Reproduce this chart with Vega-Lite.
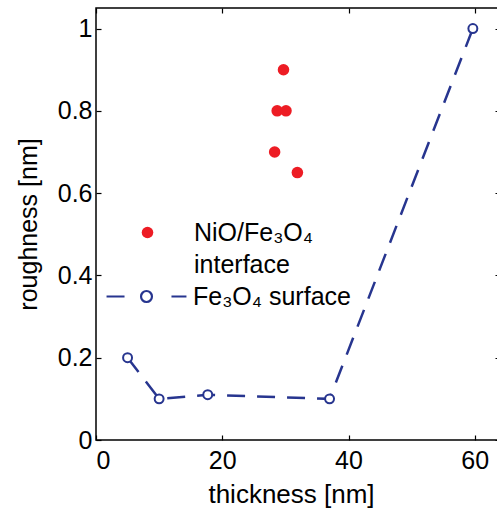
{
  "$schema": "https://vega.github.io/schema/vega-lite/v6.json",
  "width": 404,
  "height": 432,
  "autosize": "none",
  "padding": {"left": 96, "top": 8, "right": 0, "bottom": 75},
  "background": "white",
  "config": {
    "view": {"stroke": "black", "strokeWidth": 1.5},
    "style": {"guide-label": {"lineHeight": 32.5}},
    "axis": {
      "labelFont": "Liberation Sans", "titleFont": "Liberation Sans",
      "labelFontSize": 25, "titleFontSize": 25, "titleFontWeight": "normal",
      "labelColor": "black", "titleColor": "black",
      "domainColor": "black", "tickColor": "black", "domainWidth": 1.5,
      "tickWidth": 1.2, "grid": false, "tickSize": -5
    },
    "legend": {
      "labelFont": "Liberation Sans", "labelFontSize": 25, "labelColor": "black",
      "title": null, "padding": 0, "labelLimit": 400, "symbolSize": 133,
      "labelBaseline": "middle", "labelOffset": 34
    }
  },
  "data": {
    "values": [
      {"series": "NiO/Fe₃O₄ interface", "thickness": 29.7, "roughness": 0.9},
      {"series": "NiO/Fe₃O₄ interface", "thickness": 28.7, "roughness": 0.8},
      {"series": "NiO/Fe₃O₄ interface", "thickness": 30.1, "roughness": 0.8},
      {"series": "NiO/Fe₃O₄ interface", "thickness": 28.3, "roughness": 0.7},
      {"series": "NiO/Fe₃O₄ interface", "thickness": 31.9, "roughness": 0.65},
      {"series": "Fe₃O₄ surface", "thickness": 5, "roughness": 0.2},
      {"series": "Fe₃O₄ surface", "thickness": 10, "roughness": 0.1},
      {"series": "Fe₃O₄ surface", "thickness": 17.7, "roughness": 0.11},
      {"series": "Fe₃O₄ surface", "thickness": 37, "roughness": 0.1},
      {"series": "Fe₃O₄ surface", "thickness": 59.7, "roughness": 1.0}
    ]
  },
  "resolve": {"axis": {"x": "independent", "y": "independent"}},
  "layer": [
    {
      "transform": [{"filter": "datum.series == 'Fe₃O₄ surface'"}],
      "mark": {"type": "line", "color": "#27358f", "strokeWidth": 2.5, "strokeDash": [18, 12]},
      "encoding": {
        "x": {"field": "thickness", "type": "quantitative", "scale": {"domain": [0, 64], "nice": false},
              "axis": {"orient": "top", "values": [0, 20, 40, 60], "labels": false, "title": null, "domain": false}},
        "y": {"field": "roughness", "type": "quantitative", "scale": {"domain": [0, 1.05], "nice": false},
              "axis": {"orient": "right", "values": [0, 0.2, 0.4, 0.6, 0.8, 1], "labels": false, "title": null, "domain": false}}
      }
    },
    {
      "transform": [{"filter": "datum.series == 'NiO/Fe₃O₄ interface'"}],
      "mark": {"type": "circle", "size": 133, "opacity": 1},
      "encoding": {
        "x": {"field": "thickness", "type": "quantitative", "scale": {"domain": [0, 64], "nice": false},
              "axis": {"orient": "bottom", "values": [0, 20, 40, 60], "title": "thickness [nm]", "titleFontSize": 26, "titleX": 195, "titleAlign": "center", "labelPadding": 13, "titlePadding": 8, "domain": false}},
        "y": {"field": "roughness", "type": "quantitative", "scale": {"domain": [0, 1.05], "nice": false},
              "axis": {"orient": "left", "values": [0, 0.2, 0.4, 0.6, 0.8, 1], "format": "~g", "title": "roughness [nm]", "labelPadding": 9, "titlePadding": 16, "domain": false}},
        "fill": {
          "field": "series", "type": "nominal",
          "scale": {"domain": ["NiO/Fe₃O₄ interface"], "range": ["#ed1c24"]},
          "legend": {
            "orient": "none", "legendX": 39, "legendY": 212,
            "symbolType": "circle",
            "labelExpr": "['NiO/Fe₃O₄', 'interface']"
          }
        }
      }
    },
    {
      "transform": [{"filter": "datum.series == 'Fe₃O₄ surface'"}],
      "mark": {"type": "point", "filled": false, "fill": "white", "size": 80, "strokeWidth": 2, "opacity": 1},
      "encoding": {
        "x": {"field": "thickness", "type": "quantitative", "scale": {"domain": [0, 64], "nice": false}, "axis": null},
        "y": {"field": "roughness", "type": "quantitative", "scale": {"domain": [0, 1.05], "nice": false}, "axis": null},
        "stroke": {
          "field": "series", "type": "nominal",
          "scale": {"domain": ["Fe₃O₄ surface"], "range": ["#27358f"]},
          "legend": {
            "orient": "none", "legendX": 38, "legendY": 276,
            "symbolType": "M-6.93,0H-3.81M0.95,0A0.95,0.95 0 1,1 -0.95,0A0.95,0.95 0 1,1 0.95,0M4.33,0H6.93",
            "symbolFillColor": "white", "symbolStrokeWidth": 2.2
          }
        }
      }
    }
  ]
}
